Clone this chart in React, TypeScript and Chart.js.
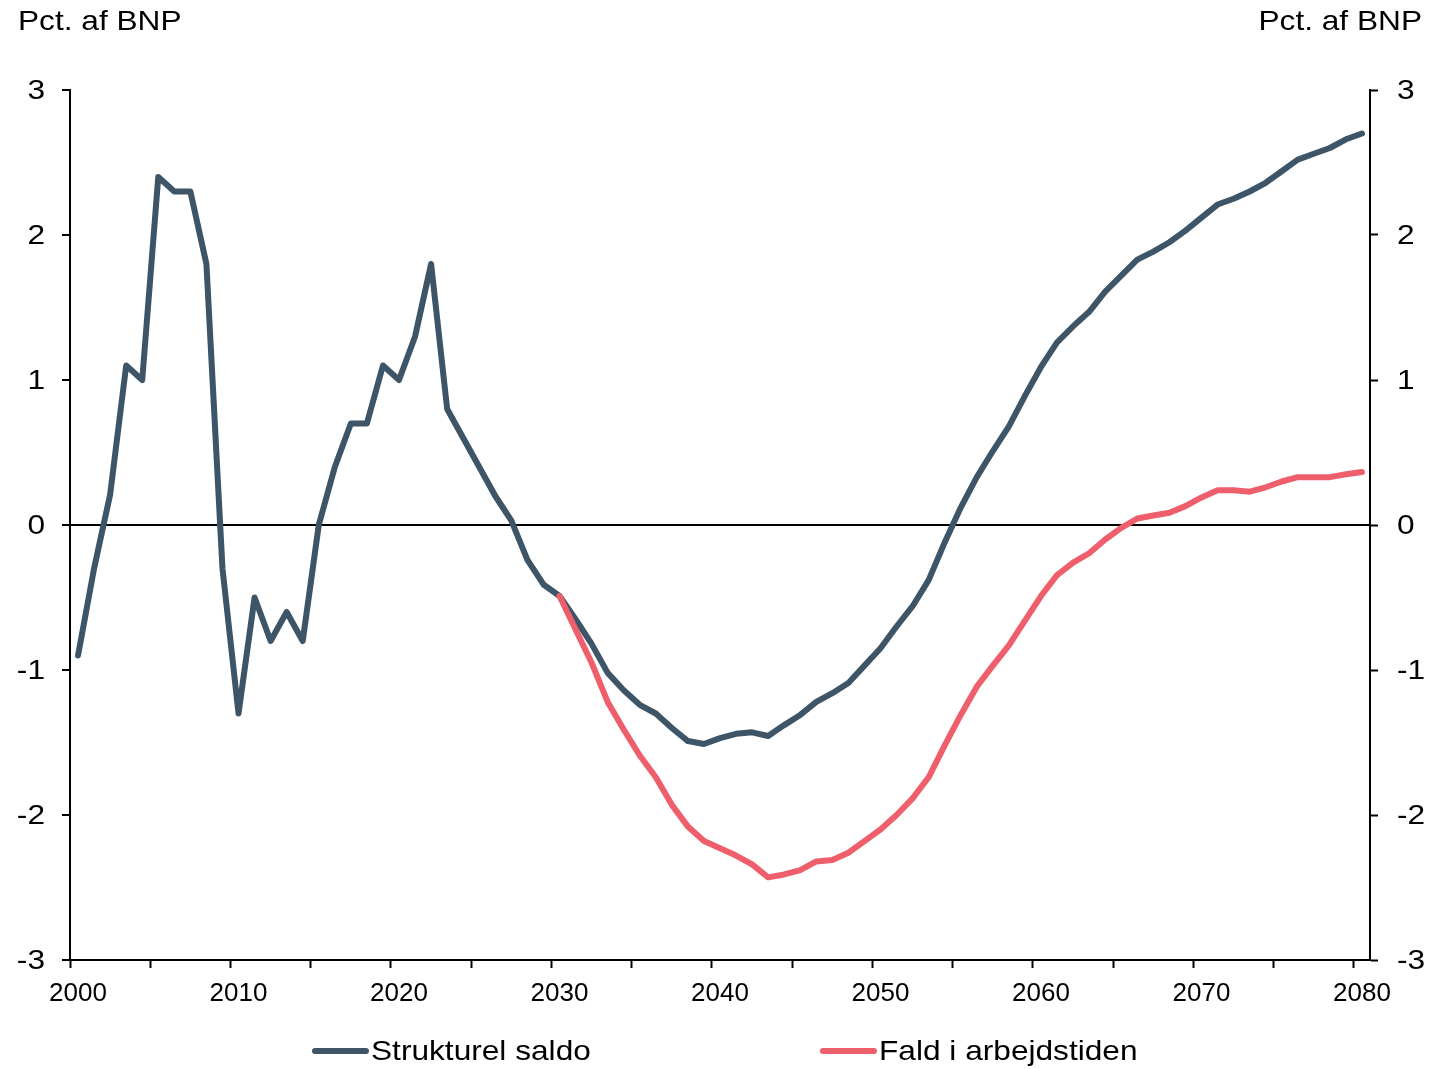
import React, { useEffect, useRef } from 'react';
import { Chart, registerables } from 'chart.js';

Chart.register(...registerables);

const years = [
  2000, 2001, 2002, 2003, 2004, 2005, 2006, 2007, 2008, 2009,
  2010, 2011, 2012, 2013, 2014, 2015, 2016, 2017, 2018, 2019,
  2020, 2021, 2022, 2023, 2024, 2025, 2026, 2027, 2028, 2029,
  2030, 2031, 2032, 2033, 2034, 2035, 2036, 2037, 2038, 2039,
  2040, 2041, 2042, 2043, 2044, 2045, 2046, 2047, 2048, 2049,
  2050, 2051, 2052, 2053, 2054, 2055, 2056, 2057, 2058, 2059,
  2060, 2061, 2062, 2063, 2064, 2065, 2066, 2067, 2068, 2069,
  2070, 2071, 2072, 2073, 2074, 2075, 2076, 2077, 2078, 2079,
  2080,
];

const strukturelSaldo = [
  -0.9, -0.3, 0.21, 1.1, 1.0, 2.4, 2.3, 2.3, 1.8, -0.3,
  -1.3, -0.5, -0.8, -0.6, -0.8, 0.0, 0.4, 0.7, 0.7, 1.1,
  1.0, 1.3, 1.8, 0.8, 0.6, 0.4, 0.2, 0.03, -0.24, -0.41,
  -0.49, -0.65, -0.82, -1.02, -1.14, -1.24, -1.3, -1.4, -1.49, -1.51,
  -1.47, -1.44, -1.43, -1.455, -1.38, -1.31, -1.22, -1.16, -1.09, -0.97,
  -0.85, -0.7, -0.56, -0.38, -0.12, 0.12, 0.33, 0.51, 0.68, 0.89,
  1.09, 1.26, 1.37, 1.47, 1.61, 1.72, 1.83, 1.885, 1.95, 2.03,
  2.12, 2.21, 2.25, 2.3, 2.36, 2.44, 2.52, 2.56, 2.6, 2.66,
  2.7,
];

const faldIArbejdstiden = [
  null, null, null, null, null, null, null, null, null, null,
  null, null, null, null, null, null, null, null, null, null,
  null, null, null, null, null, null, null, null, null, null,
  -0.49, -0.72, -0.95, -1.22, -1.41, -1.59, -1.74, -1.93, -2.08, -2.18,
  -2.23, -2.28, -2.34, -2.43, -2.41, -2.38, -2.32, -2.31, -2.26, -2.18,
  -2.1, -2.0, -1.885, -1.74, -1.52, -1.31, -1.115, -0.97, -0.83, -0.66,
  -0.49, -0.345, -0.26, -0.195, -0.1, -0.02, 0.045, 0.065, 0.085, 0.13,
  0.19, 0.24, 0.24, 0.23, 0.26, 0.3, 0.33, 0.33, 0.33, 0.35,
  0.365,
];

const yMin = -3;
const yMax = 3;
const yStep = 1;

const seriesNames = ['Strukturel saldo', 'Fald i arbejdstiden'];
const seriesColors = ['#3d5566', '#ee5f6b'];
const axisTitle = 'Pct. af BNP';

const FONT = '"Liberation Sans", Arial, sans-serif';

const textPlugin = {
  id: 'customText',
  afterDraw(chart: any) {
    const ctx = chart.ctx as CanvasRenderingContext2D;
    const stretch = 1.13;
    const drawText = (
      text: string,
      x: number,
      y: number,
      align: 'left' | 'right',
      size: number = 28,
    ) => {
      ctx.save();
      ctx.font = `${size}px ${FONT}`;
      ctx.fillStyle = '#000';
      ctx.textBaseline = 'middle';
      ctx.textAlign = align;
      ctx.translate(x, y);
      ctx.scale(stretch, 1);
      ctx.fillText(text, 0, 0);
      ctx.restore();
    };
    drawText(axisTitle, 18, 22, 'left');
    drawText(axisTitle, 1422, 22, 'right');

    // y tick labels on both sides, placed by the scales
    const yl = chart.scales.y;
    const yr = chart.scales.y2;
    yl.ticks.forEach((t: any) => {
      drawText(String(t.value), yl.right - 25, yl.getPixelForValue(t.value) + 1, 'right', 28);
    });
    yr.ticks.forEach((t: any) => {
      drawText(String(t.value), yr.left + 27, yr.getPixelForValue(t.value) + 1, 'left', 28);
    });

    const legendY = 1051;
    const items = [
      { x0: 315, x1: 366, tx: 371 },
      { x0: 823, x1: 874, tx: 879 },
    ];
    items.forEach((it, i) => {
      ctx.save();
      ctx.strokeStyle = seriesColors[i];
      ctx.lineWidth = 6;
      ctx.lineCap = 'round';
      ctx.beginPath();
      ctx.moveTo(it.x0, legendY);
      ctx.lineTo(it.x1, legendY);
      ctx.stroke();
      ctx.restore();
      drawText(seriesNames[i], it.tx, legendY + 1, 'left');
    });
  },
};

export default function App() {
  const canvasRef = useRef<HTMLCanvasElement | null>(null);

  useEffect(() => {
    if (!canvasRef.current) return;
    const xFont = { family: FONT, size: 26 };
    const chart = new Chart(canvasRef.current, {
      type: 'line',
      data: {
        labels: years.map(String),
        datasets: [
          {
            label: seriesNames[0],
            data: strukturelSaldo,
            borderColor: seriesColors[0],
            backgroundColor: seriesColors[0],
            borderWidth: 6,
            pointRadius: 0,
            tension: 0,
            borderJoinStyle: 'round',
            borderCapStyle: 'round',
            yAxisID: 'y',
            order: 1,
          },
          {
            label: seriesNames[1],
            data: faldIArbejdstiden,
            borderColor: seriesColors[1],
            backgroundColor: seriesColors[1],
            borderWidth: 6,
            pointRadius: 0,
            tension: 0,
            borderJoinStyle: 'round',
            borderCapStyle: 'round',
            yAxisID: 'y',
            order: 0,
          },
        ],
      },
      options: {
        animation: false,
        responsive: false,
        maintainAspectRatio: false,
        layout: { padding: { top: 90, left: 0, right: 0, bottom: 0 } },
        plugins: {
          legend: { display: false },
          tooltip: { enabled: false },
          title: { display: false },
        },
        scales: {
          x: {
            type: 'category',
            offset: true,
            grid: {
              offset: true,
              drawOnChartArea: false,
              tickLength: 8,
              tickWidth: 2,
              tickColor: (ctx: any) =>
                typeof ctx.index === 'number' && ctx.index % 5 === 0 ? '#000' : 'rgba(0,0,0,0)',
            },
            border: { color: '#000', width: 2 },
            ticks: {
              autoSkip: false,
              maxRotation: 0,
              minRotation: 0,
              color: '#000',
              font: xFont,
              padding: 10,
              callback: (_v: any, i: number) => (i % 10 === 0 ? String(years[i]) : ''),
            },
            afterFit: (s: any) => {
              s.height = 109;
            },
          },
          y: {
            position: 'left',
            min: yMin,
            max: yMax,
            ticks: { stepSize: yStep, display: false },
            grid: {
              color: (ctx: any) => (ctx.tick && ctx.tick.value === 0 ? '#000' : 'rgba(0,0,0,0)'),
              lineWidth: 2,
              tickColor: '#000',
              tickLength: 8,
              tickWidth: 2,
            },
            border: { color: '#000', width: 2 },
            afterFit: (s: any) => {
              s.width = 70;
            },
          },
          y2: {
            position: 'right',
            min: yMin,
            max: yMax,
            ticks: { stepSize: yStep, display: false },
            grid: {
              drawOnChartArea: false,
              tickColor: '#000',
              tickLength: 8,
              tickWidth: 2,
            },
            border: { color: '#000', width: 2 },
            afterFit: (s: any) => {
              s.width = 80;
            },
          },
        },
      } as any,
      plugins: [textPlugin],
    });
    return () => chart.destroy();
  }, []);

  return (
    <div style={{ position: 'fixed', left: 0, top: 0, width: 1450, height: 1069, background: '#fff' }}>
      <canvas ref={canvasRef} width={1450} height={1069} style={{ width: 1450, height: 1069, display: 'block' }} />
    </div>
  );
}
